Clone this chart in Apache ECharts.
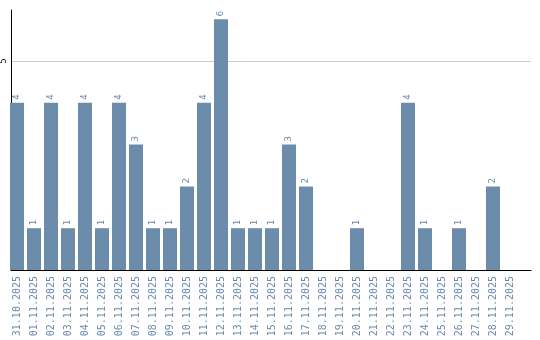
<!DOCTYPE html>
<html><head><meta charset="utf-8">
<script src="https://cdn.jsdelivr.net/npm/echarts@6/dist/echarts.min.js"></script>
<style>html,body{margin:0;padding:0;background:#fff}#c{width:540px;height:340px}</style>
</head><body><div id="c"></div>
<script>
const categories = ["31.10.2025","01.11.2025","02.11.2025","03.11.2025","04.11.2025","05.11.2025","06.11.2025","07.11.2025","08.11.2025","09.11.2025","10.11.2025","11.11.2025","12.11.2025","13.11.2025","14.11.2025","15.11.2025","16.11.2025","17.11.2025","18.11.2025","19.11.2025","20.11.2025","21.11.2025","22.11.2025","23.11.2025","24.11.2025","25.11.2025","26.11.2025","27.11.2025","28.11.2025","29.11.2025"];
const values = [4,1,4,1,4,1,4,3,1,1,2,4,6,1,1,1,3,2,0,0,1,0,0,4,1,0,1,0,2,0];
const yMax = 6.22;
const chart = echarts.init(document.getElementById('c'), null, {renderer:'canvas'});
chart.setOption({
  animation:false,
  grid:[
    {left:8.5,right:21.5,top:10,bottom:70,containLabel:false},
    {left:10,right:9,top:10,bottom:70,containLabel:false}
  ],
  xAxis:[
    {type:'category',data:categories,gridIndex:0,
      axisLine:{show:false},axisTick:{show:false},splitLine:{show:false},
      axisLabel:{rotate:90,color:'#6b8aaa',fontFamily:'DejaVu Sans Mono',fontSize:10,margin:6,interval:0}},
    {type:'category',data:categories,gridIndex:1,
      axisLine:{show:true,lineStyle:{color:'#000',width:1}},
      axisTick:{show:false},axisLabel:{show:false},splitLine:{show:false}}
  ],
  yAxis:[
    {type:'value',gridIndex:0,min:0,max:yMax,interval:5,show:false,splitLine:{show:false}},
    {type:'value',gridIndex:1,min:0,max:yMax,interval:5,
      axisLine:{show:true,lineStyle:{color:'#000',width:1}},
      axisTick:{show:false},
      splitLine:{show:true,showMinLine:false,showMaxLine:false,lineStyle:{color:'#cccccc',width:1}},
      axisLabel:{rotate:90,color:'#000',fontSize:8,fontFamily:'DejaVu Sans',margin:3,
        showMinLabel:false,showMaxLabel:false,
        formatter:v=>(v===5)?String(v):''}}
  ],
  series:[
    {type:'bar',xAxisIndex:0,yAxisIndex:0,data:values,barWidth:14,
      itemStyle:{color:'#6b8cab'},
      label:{show:true,position:'top',rotate:90,align:'left',verticalAlign:'middle',distance:3,
        color:'#6b8aaa',fontSize:9,fontFamily:'DejaVu Sans Mono',
        formatter:p=>p.value===0?'':String(p.value)}},
    {type:'bar',xAxisIndex:1,yAxisIndex:1,data:[],silent:true}
  ]
});
</script></body></html>
